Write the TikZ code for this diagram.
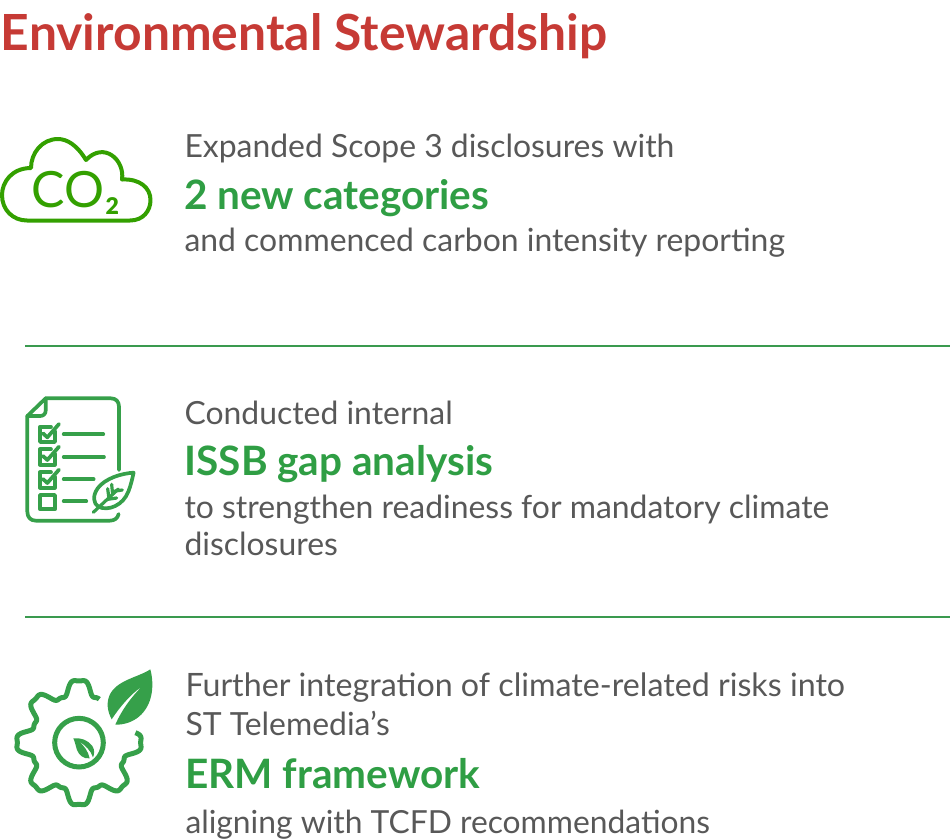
\documentclass[tikz,border=0pt]{standalone}
\usepackage{fontspec}
\setmainfont{Lato}
\newfontfamily\blackf{Lato Black}
\definecolor{titlered}{HTML}{C63A35}
\definecolor{bodygray}{HTML}{585858}
\definecolor{headgreen}{HTML}{2F9E44}
\definecolor{rulegreen}{HTML}{3A9A4F}
\definecolor{iconA}{HTML}{33A000}
\definecolor{iconB}{HTML}{36A04A}
\tikzset{
  every node/.style={inner sep=0pt,outer sep=0pt,anchor=base west},
  bodytext/.style={font=\fontsize{31.9}{31.9}\selectfont,text=bodygray},
  bodywide/.style={font=\fontsize{32.2}{32.2}\selectfont,text=bodygray},
  bodynarrow/.style={font=\fontsize{31.8}{31.8}\selectfont,text=bodygray},
  headtext/.style={font=\fontsize{40.5}{40.5}\selectfont\bfseries,text=headgreen},
  titletext/.style={font=\fontsize{49.8}{49.8}\selectfont\bfseries,text=titlered},
  rulerline/.style={draw=rulegreen,line width=2},
  iconline/.style={draw=iconB,line width=3.7,line cap=round,line join=round},
  veinline/.style={draw=iconB,line width=3.2,line cap=round,line join=round},
}
\begin{document}
\begin{tikzpicture}[x=1pt,y=-1pt]
\useasboundingbox (0,0) rectangle (950,839);
\node[titletext] (title) at (1,50) {Environmental Stewardship};

% row 1
\node[bodytext] (a1) at (184.5,157) {Expanded Scope 3 disclosures with};
\node[headtext] (a2) at (184,209) {2 new categories};
\node[bodytext] (a3) at (184.5,251) {and commenced carbon intensity reporting};
\coordinate (r1a) at (25,345.5); \coordinate (r1b) at (950,345.5);
\draw[rulerline] (r1a) -- (r1b);

% row 2
\node[bodytext] (b1) at (184.5,424) {Conducted internal};
\node[headtext] (b2) at (184.5,475) {ISSB gap analysis};
\node[bodytext] (b3) at (184.5,518) {to strengthen readiness for mandatory climate};
\node[bodytext] (b4) at (184.5,555) {disclosures};
\coordinate (r2a) at (25,616.5); \coordinate (r2b) at (950,616.5);
\draw[rulerline] (r2a) -- (r2b);

% row 3
\node[bodywide] (c1) at (185.5,696) {Further integration of climate-related risks into};
\node[bodytext] (c2) at (185.5,735) {ST Telemedia’s};
\node[headtext] (c3) at (185.5,788) {ERM framework};
\node[bodynarrow] (c4) at (185.5,833) {aligning with TCFD recommendations};

% cloud icon
\draw[draw=iconA,line width=4,line join=round]
  (27,220.5) -- (130,220.5)
  .. controls (143,220.5) and (150.5,211) .. (150.5,200)
  .. controls (150.5,188) and (140,178.5) .. (122,179.5)
  .. controls (125,160) and (104,141) .. (86,160)
  .. controls (77,145) and (67,139) .. (58,139)
  .. controls (42,139) and (31,153) .. (31,168)
  .. controls (12,168) and (2,182) .. (2,195)
  .. controls (2,210) and (13,220.5) .. (27,220.5) -- cycle;
\node[font=\fontsize{50}{50}\selectfont,text=iconA] (co) at (31.5,207.5) {CO};
\node[font=\blackf\fontsize{23}{23}\selectfont,text=iconA] (two) at (105.5,214) {2};

% checklist icon
\begin{scope}[shift={(15,390)},x=0.3333pt,y=-0.3333pt]
  \draw[iconline] (312,240) -- (312,50) .. controls (312,35) and (303,25) .. (288,25) -- (92,25) -- (37,78) -- (37,365) .. controls (37,382) and (47,392) .. (62,392) -- (285,392) .. controls (298,392) and (308,385) .. (311,372);
  \draw[iconline] (92,25) -- (92,62) .. controls (92,72) and (85,78) .. (75,78) -- (37,78);
  \foreach \yy in {110,178,247}{
    \draw[iconline] (120,\yy+14) -- (120,\yy+46) -- (75,\yy+46) -- (75,\yy) -- (108,\yy);
    \draw[iconline] (84,\yy+20) -- (97,\yy+32) -- (132,\yy-8);
  }
  \draw[iconline] (75,315) rectangle (120,358);
  \draw[iconline] (146,133) -- (265,133);
  \draw[iconline] (146,201) -- (267,201);
  \draw[iconline] (146,268) -- (236,268);
  \draw[iconline] (146,334) -- (214,334);
  % leaf
  \draw[iconline] (356,248) .. controls (320,250) and (270,265) .. (248,295)
     .. controls (232,318) and (235,340) .. (250,350)
     .. controls (280,365) and (325,345) .. (340,305)
     .. controls (348,285) and (352,265) .. (356,248) -- cycle;
  \draw[veinline] (235,367) -- (310,297);
  \draw[veinline] (278,296) -- (282,326);
  \draw[veinline] (290,283) -- (293,314);
  \draw[veinline] (278,328) -- (305,324);
  \draw[veinline] (296,304) -- (322,300);
\end{scope}

% gear icon
\begin{scope}[shift={(5,660)},x=0.3333pt,y=-0.3333pt]
  \draw[draw=iconB,line width=5,line cap=butt,line join=round]
    plot[domain=65:370,samples=240,smooth,variable=\t]
    ({222+(165+25*(cos(8*\t)-0.2*cos(24*\t)))*cos(\t)},{248-(165+25*(cos(8*\t)-0.2*cos(24*\t)))*sin(\t)});
  \draw[draw=iconB,line width=5] (222,248) circle[radius=73];
  % big leaf
  \fill[iconB] (436,28) .. controls (400,52) and (335,60) .. (314,105)
     .. controls (303,130) and (308,155) .. (320,178)
     .. controls (345,140) and (375,105) .. (412,78)
     .. controls (380,110) and (350,150) .. (331,194)
     .. controls (385,195) and (430,160) .. (440,100)
     .. controls (444,75) and (442,50) .. (436,28) -- cycle;
  % small leaf
  \fill[iconB] (205,235) .. controls (225,232) and (250,240) .. (262,258)
     .. controls (270,270) and (268,283) .. (264,292)
     .. controls (258,272) and (240,255) .. (222,244)
     .. controls (238,258) and (250,275) .. (254,295)
     .. controls (235,297) and (222,285) .. (216,270)
     .. controls (212,258) and (210,245) .. (205,235) -- cycle;
\end{scope}
\end{tikzpicture}
\end{document}
